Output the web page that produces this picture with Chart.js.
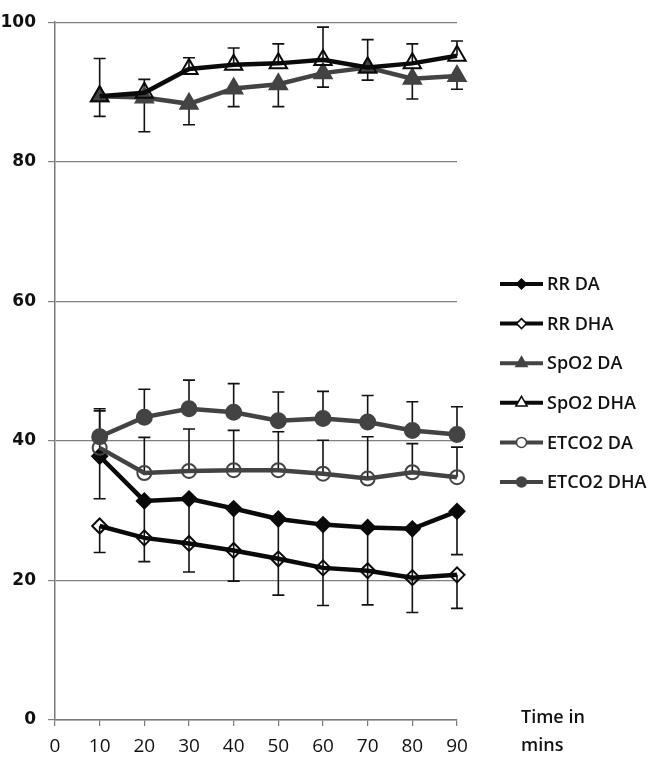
<!DOCTYPE html>
<html>
<head>
<meta charset="utf-8">
<script src="https://cdn.jsdelivr.net/npm/chart.js@4"></script>
<style>
  html, body { margin: 0; padding: 0; background: #fff; }
  #wrap { width: 656px; height: 760px; }
</style>
</head>
<body>
<div id="wrap"><canvas id="chart" width="656" height="760"></canvas></div>
<script>
const times = [10, 20, 30, 40, 50, 60, 70, 80, 90];
const yTicks = [0, 20, 40, 60, 80, 100];
const xTicks = [0, 10, 20, 30, 40, 50, 60, 70, 80, 90];

const seriesNames = ['RR DA', 'RR DHA', 'SpO2 DA', 'SpO2 DHA', 'ETCO2 DA', 'ETCO2 DHA'];

const rrDA = [37.8, 31.4, 31.7, 30.3, 28.8, 28.0, 27.6, 27.4, 29.9];
const rrDHA = [27.8, 26.1, 25.3, 24.3, 23.1, 21.8, 21.4, 20.4, 20.8];
const spo2DA = [89.4, 89.2, 88.3, 90.5, 91.1, 92.7, 93.5, 91.9, 92.3];
const spo2DHA = [89.4, 89.9, 93.3, 93.9, 94.1, 94.6, 93.5, 94.1, 95.2];
const etco2DA = [39.0, 35.4, 35.7, 35.8, 35.8, 35.3, 34.6, 35.5, 34.8];
const etco2DHA = [40.6, 43.4, 44.6, 44.1, 42.9, 43.2, 42.7, 41.5, 40.9];

// error bar ends (null = no bar that side)
const rrDALow = [31.7, 26.1, 25.3, 24.3, 23.1, 21.8, 21.4, 20.4, 23.7];
const rrDHALow = [24.0, 22.7, 21.2, 19.9, 17.9, 16.4, 16.5, 15.4, 16.0];
const spo2DALow = [86.5, 84.3, 85.3, 87.9, 87.9, 90.7, 91.7, 89.0, 90.4];
const spo2DHAHigh = [94.8, 91.8, 94.9, 96.3, 96.9, 99.3, 97.5, 96.9, 97.3];
const etco2DAHigh = [44.3, 40.5, 41.7, 41.5, 41.3, 40.1, 40.6, 39.6, 39.1];
const etco2DHAHigh = [44.6, 47.4, 48.7, 48.2, 47.0, 47.1, 46.5, 45.6, 44.9];

const BLACK = '#0a0a0a';
const GREY = '#434343';

function pts(values) {
    return values.map((v, i) => ({ x: times[i], y: v }));
}

function series(i, values, opts) {
    return Object.assign({
        label: seriesNames[i],
        data: pts(values),
        borderWidth: 4.5,
        pointBorderWidth: 2,
        clip: false,
        order: 6 - i,
        tension: 0,
    }, opts);
}

const datasets = [
    series(0, rrDA, { borderColor: BLACK, pointStyle: 'rectRot', pointRadius: 7.5, pointBackgroundColor: BLACK, pointBorderColor: BLACK, low: rrDALow }),
    series(1, rrDHA, { borderColor: BLACK, pointStyle: 'rectRot', pointRadius: 7.5, pointBackgroundColor: 'rgba(0,0,0,0)', pointBorderColor: BLACK, low: rrDHALow }),
    series(2, spo2DA, { borderColor: GREY, pointStyle: 'triangle', pointRadius: 10, pointBackgroundColor: GREY, pointBorderColor: GREY, low: spo2DALow }),
    series(3, spo2DHA, { borderColor: BLACK, pointStyle: 'triangle', pointRadius: 10, pointBackgroundColor: 'rgba(0,0,0,0)', pointBorderColor: BLACK, high: spo2DHAHigh }),
    series(4, etco2DA, { borderColor: GREY, pointStyle: 'circle', pointRadius: 7, pointBackgroundColor: 'rgba(0,0,0,0)', pointBorderColor: GREY, high: etco2DAHigh }),
    series(5, etco2DHA, { borderColor: GREY, pointStyle: 'circle', pointRadius: 7.5, pointBackgroundColor: GREY, pointBorderColor: GREY, high: etco2DHAHigh }),
];

// error bars, drawn under the lines
const errorBars = {
    id: 'errorBars',
    beforeDatasetsDraw(chart) {
        const { ctx, scales: { x, y } } = chart;
        ctx.save();
        ctx.strokeStyle = '#111';
        ctx.lineWidth = 1.6;
        chart.data.datasets.forEach((ds) => {
            times.forEach((t, i) => {
                const px = x.getPixelForValue(t);
                const py = y.getPixelForValue(ds.data[i].y);
                [ds.low, ds.high].forEach((ends) => {
                    if (!ends || ends[i] == null) return;
                    const ey = y.getPixelForValue(ends[i]);
                    ctx.beginPath();
                    ctx.moveTo(px, py);
                    ctx.lineTo(px, ey);
                    ctx.moveTo(px - 6, ey);
                    ctx.lineTo(px + 6, ey);
                    ctx.stroke();
                });
            });
        });
        ctx.restore();
    },
};

// excel style legend with line + marker, and the axis title
const sideLegend = {
    id: 'sideLegend',
    afterDraw(chart) {
        const { ctx } = chart;
        ctx.save();
        chart.data.datasets.forEach((ds, i) => {
            const yy = 284 + i * 39.6;
            ctx.strokeStyle = ds.borderColor;
            ctx.lineWidth = 4;
            ctx.beginPath();
            ctx.moveTo(500, yy);
            ctx.lineTo(543, yy);
            ctx.stroke();
            const r = ds.pointStyle === 'triangle' ? 6.5 : 5;
            ctx.fillStyle = ds.pointBackgroundColor === 'rgba(0,0,0,0)' ? '#fff' : ds.pointBackgroundColor;
            ctx.strokeStyle = ds.pointBorderColor;
            ctx.lineWidth = 1.5;
            Chart.helpers.drawPoint(ctx, { pointStyle: ds.pointStyle, radius: r, borderWidth: 1.5 }, 521.5, yy);
            ctx.fillStyle = '#111';
            ctx.font = '600 18px "Open Sans"';
            ctx.textAlign = 'left';
            ctx.textBaseline = 'middle';
            ctx.fillText(ds.label, 547, yy + 1);
        });
        ctx.font = '600 18px "Open Sans"';
        ctx.fillStyle = '#111';
        ctx.textBaseline = 'middle';
        ctx.fillText('Time in', 521, 718);
        ctx.fillText('mins', 521, 746);
        ctx.restore();
    },
};

new Chart(document.getElementById('chart'), {
    type: 'line',
    data: { datasets },
    options: {
        responsive: false,
        animation: false,
        layout: { padding: { top: 11, right: 199, left: 0, bottom: 0 } },
        plugins: {
            legend: { display: false },
            tooltip: { enabled: false },
        },
        scales: {
            x: {
                type: 'linear',
                min: 0,
                max: 90,
                afterBuildTicks: (s) => { s.ticks = xTicks.map((v) => ({ value: v })); },
                afterFit: (s) => { s.height = 40; },
                ticks: { color: '#111', font: { family: 'Open Sans', size: 19 }, padding: 9, maxRotation: 0 },
                grid: { drawOnChartArea: false, drawTicks: true, tickLength: 6, color: '#7a7a7a', lineWidth: 1.2 },
                border: { color: '#7a7a7a', width: 1.5 },
            },
            y: {
                min: 0,
                max: 100,
                afterBuildTicks: (s) => { s.ticks = yTicks.map((v) => ({ value: v })); },
                afterFit: (s) => { s.width = 55; },
                ticks: { color: '#111', font: { family: 'DejaVu Sans', size: 17, weight: 'bold' }, padding: 12 },
                grid: { color: '#808080', lineWidth: 1.2, tickLength: 7 },
                border: { color: '#7a7a7a', width: 1.5 },
            },
        },
    },
    plugins: [errorBars, sideLegend],
});
</script>
</body>
</html>
